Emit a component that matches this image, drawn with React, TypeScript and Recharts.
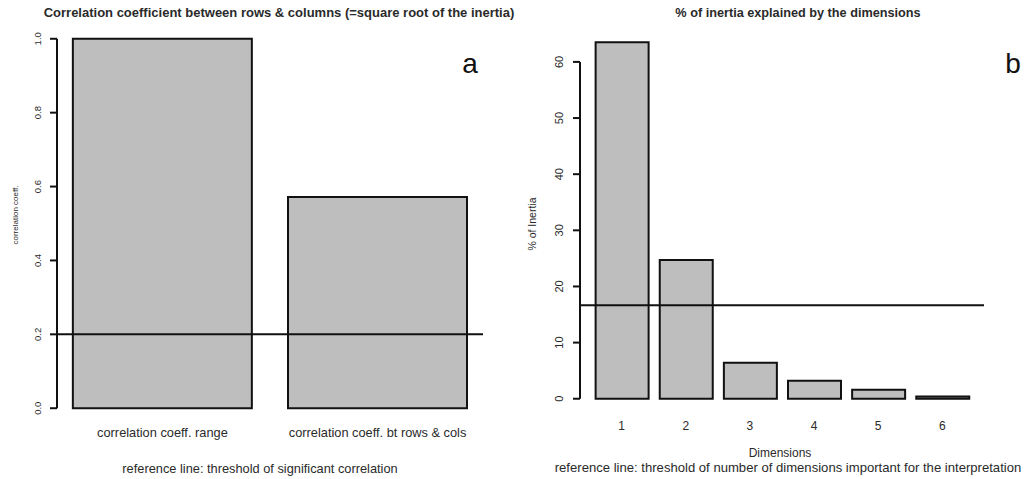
import { BarChart, Bar, XAxis, YAxis, ReferenceLine } from 'recharts';

// panel a: correlation coefficients
const corrLabels = ['correlation coeff. range', 'correlation coeff. bt rows & cols'];
const corrValues = [1.0, 0.572];
const corrTicks = [0, 0.2, 0.4, 0.6, 0.8, 1.0];
const corrThreshold = 0.2;

// panel b: % of inertia per dimension
const dimLabels = ['1', '2', '3', '4', '5', '6'];
const inertiaValues = [63.5, 24.7, 6.4, 3.2, 1.6, 0.4];
const inertiaTicks = [0, 10, 20, 30, 40, 50, 60];
const inertiaThreshold = 16.67;

// barplot()-style layout: unit-wide bars with 0.2 space in front of each
const barPos = (i: number) => 0.7 + 1.2 * i;
const barIndex = (pos: number) => Math.round((pos - 0.7) / 1.2);
// axis range padded by 4% on both sides
const padded = (lo: number, hi: number): [number, number] => [lo - 0.04 * (hi - lo), hi + 0.04 * (hi - lo)];

const corrData = corrLabels.map((label, i) => ({ pos: barPos(i), label, value: corrValues[i] }));
const dimData = dimLabels.map((label, i) => ({ pos: barPos(i), label, value: inertiaValues[i] }));

const corrX = padded(0.2, 1.2 * corrLabels.length);
const dimX = padded(0.2, 1.2 * dimLabels.length);
const corrY = padded(0, Math.max(...corrValues));
const dimY = padded(0, Math.max(...inertiaValues));

const INK = '#111';
const TEXT = '#2a2a2a';
const BAR_FILL = '#bebebe';
const FONT = '"Liberation Sans", Arial, Helvetica, sans-serif';

const HEIGHT = 479;
const TICK_SIZE = 7;

// rotated tick label with its tick mark drawn back towards the axis
const RotatedTick = ({ x, y, payload, fontSize, digits, margin }: any) => (
  <g>
    <path d={`M${x + margin},${y}h${TICK_SIZE}`} stroke={INK} strokeWidth={2} fill="none" />
    <text
      x={x}
      y={y}
      transform={`rotate(-90 ${x} ${y})`}
      textAnchor="middle"
      fontSize={fontSize}
      fontFamily={FONT}
      fill={TEXT}
    >
      {Number(payload.value).toFixed(digits)}
    </text>
  </g>
);

// R-style y axis line: it only runs from the first to the last tick, so it lives in
// its own chart whose plot area is cut to that tick range of the panel's value scale
function TickRangeAxisLine({ width, top, xAxisHeight, axisWidth, right, domain, ticks }: any) {
  const plotH = HEIGHT - top - xAxisHeight;
  const toPx = (v: number) => top + ((domain[1] - v) / (domain[1] - domain[0])) * plotH;
  const lo = ticks[0];
  const hi = ticks[ticks.length - 1];
  return (
    <BarChart width={width} height={HEIGHT} data={[{ pos: 0 }]} margin={{ top: toPx(hi), right, bottom: 0, left: 0 }}>
      <XAxis dataKey="pos" height={HEIGHT - toPx(lo)} tick={false} axisLine={false} tickLine={false} />
      <YAxis
        domain={[lo, hi]}
        width={axisWidth}
        axisLine={{ stroke: INK, strokeWidth: 2 }}
        tickLine={false}
        tick={false}
      />
    </BarChart>
  );
}

export default function App() {
  return (
    <div style={{ position: 'absolute', left: 0, top: 0, width: 1025, height: HEIGHT, background: '#fff', fontFamily: FONT }}>
      <div style={{ position: 'absolute', left: 0, top: 0 }}>
        <BarChart width={512} height={HEIGHT} data={corrData} margin={{ top: 24, right: 29, bottom: 0, left: 0 }}>
          <XAxis
            type="number"
            dataKey="pos"
            domain={corrX}
            allowDataOverflow
            ticks={corrData.map((d) => d.pos)}
            tickFormatter={(v) => corrLabels[barIndex(v)]}
            interval={0}
            axisLine={false}
            tickLine={false}
            tickSize={0}
            tickMargin={5}
            height={56}
            tick={{ fill: TEXT, fontSize: 12.8, fontFamily: FONT }}
          />
          <YAxis
            domain={corrY}
            allowDataOverflow
            ticks={corrTicks}
            width={57}
            axisLine={false}
            tickLine={false}
            tickSize={TICK_SIZE}
            tickMargin={9}
            tick={<RotatedTick fontSize={9.5} digits={1} margin={9} />}
          />
          <Bar dataKey="value" fill={BAR_FILL} stroke={INK} strokeWidth={2} barSize={179} isAnimationActive={false} />
          <ReferenceLine y={corrThreshold} stroke={INK} strokeWidth={2} ifOverflow="visible" />
        </BarChart>
      </div>
      <div style={{ position: 'absolute', left: 0, top: 0 }}>
        <TickRangeAxisLine width={512} top={24} xAxisHeight={56} axisWidth={57} right={29} domain={corrY} ticks={corrTicks} />
      </div>

      <div style={{ position: 'absolute', left: 510, top: 0 }}>
        <BarChart width={515} height={HEIGHT} data={dimData} margin={{ top: 28, right: 41, bottom: 0, left: 0 }}>
          <XAxis
            type="number"
            dataKey="pos"
            domain={dimX}
            allowDataOverflow
            ticks={dimData.map((d) => d.pos)}
            tickFormatter={(v) => dimLabels[barIndex(v)]}
            interval={0}
            axisLine={false}
            tickLine={false}
            tickSize={0}
            tickMargin={8}
            height={66}
            tick={{ fill: TEXT, fontSize: 12, fontFamily: FONT }}
          />
          <YAxis
            domain={dimY}
            allowDataOverflow
            ticks={inertiaTicks}
            width={70}
            axisLine={false}
            tickLine={false}
            tickSize={TICK_SIZE}
            tickMargin={10}
            tick={<RotatedTick fontSize={11} digits={0} margin={10} />}
          />
          <Bar dataKey="value" fill={BAR_FILL} stroke={INK} strokeWidth={2} barSize={53} isAnimationActive={false} />
          <ReferenceLine y={inertiaThreshold} stroke={INK} strokeWidth={2} ifOverflow="visible" />
        </BarChart>
      </div>
      <div style={{ position: 'absolute', left: 510, top: 0 }}>
        <TickRangeAxisLine width={515} top={28} xAxisHeight={66} axisWidth={70} right={41} domain={dimY} ticks={inertiaTicks} />
      </div>

      {/* titles, axis titles, panel letters and captions */}
      <svg width={1025} height={HEIGHT} style={{ position: 'absolute', left: 0, top: 0, pointerEvents: 'none' }} fontFamily={FONT}>
        <text x={279} y={17} textAnchor="middle" fontSize={13} fontWeight="bold" fill={TEXT}>
          Correlation coefficient between rows &amp; columns (=square root of the inertia)
        </text>
        <text x={798} y={17} textAnchor="middle" fontSize={12.7} fontWeight="bold" fill={TEXT}>
          % of inertia explained by the dimensions
        </text>

        <text x={470} y={73} textAnchor="middle" fontSize={28} fill={INK}>a</text>
        <text x={1013} y={73} textAnchor="middle" fontSize={28} fill={INK}>b</text>

        <text x={17.5} y={215} transform="rotate(-90 17.5 215)" textAnchor="middle" fontSize={8} fill={TEXT}>
          correlation coeff.
        </text>
        <text x={536} y={224} transform="rotate(-90 536 224)" textAnchor="middle" fontSize={10.5} fill={TEXT}>
          % of Inertia
        </text>

        <text x={260} y={473} textAnchor="middle" fontSize={12.8} fill={TEXT}>
          reference line: threshold of significant correlation
        </text>
        <text x={780} y={457} textAnchor="middle" fontSize={12} fill={TEXT}>
          Dimensions
        </text>
        <text x={788} y={472} textAnchor="middle" fontSize={13.1} fill={TEXT}>
          reference line: threshold of number of dimensions important for the interpretation
        </text>
      </svg>
    </div>
  );
}
